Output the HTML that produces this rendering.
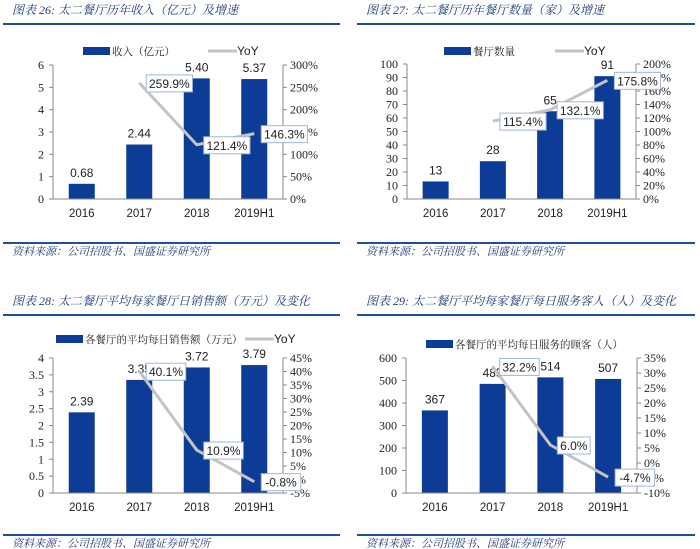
<!DOCTYPE html>
<html><head><meta charset="utf-8">
<style>
html,body{margin:0;padding:0;background:#fff;width:700px;height:549px;overflow:hidden}
svg{display:block}
.title{font-family:"Liberation Serif","Noto Serif CJK SC",serif;font-style:italic;font-size:12px;fill:#1f3b78}
.foot{font-family:"Liberation Serif","Noto Serif CJK SC",serif;font-style:italic;font-size:11px;fill:#1f3b78}
.tick{font-family:"Liberation Serif",serif;font-size:12px;fill:#222}
.cat{font-family:"Liberation Sans",sans-serif;font-size:11.5px;fill:#222}
.val{font-family:"Liberation Sans",sans-serif;font-size:12px;fill:#222}
.leg{font-family:"Liberation Serif","Noto Serif CJK SC",serif;font-size:10.5px;fill:#222}
</style></head>
<body>
<svg id="page" width="700" height="549" xmlns="http://www.w3.org/2000/svg"></svg>
<script>
// Shared categories
const categories = ["2016","2017","2018","2019H1"];

// Chart 26: revenue
const c1Values = [0.68, 2.44, 5.40, 5.37];
const c1Yoy = [null, 259.9, 121.4, 146.3];
const c1LeftTicks = [0,1,2,3,4,5,6];
const c1RightTicks = [0,50,100,150,200,250,300];

// Chart 27: restaurant count
const c2Values = [13, 28, 65, 91];
const c2Yoy = [null, 115.4, 132.1, 175.8];
const c2LeftTicks = [0,10,20,30,40,50,60,70,80,90,100];
const c2RightTicks = [0,20,40,60,80,100,120,140,160,180,200];

// Chart 28: daily sales per restaurant
const c3Values = [2.39, 3.35, 3.72, 3.79];
const c3Yoy = [null, 40.1, 10.9, -0.8];
const c3LeftTicks = [0,0.5,1,1.5,2,2.5,3,3.5,4];
const c3RightTicks = [-5,0,5,10,15,20,25,30,35,40,45];

// Chart 29: daily customers per restaurant
const c4Values = [367, 485, 514, 507];
const c4Yoy = [null, 32.2, 6.0, -4.7];
const c4LeftTicks = [0,100,200,300,400,500,600];
const c4RightTicks = [-10,-5,0,5,10,15,20,25,30,35];

const svg = document.getElementById('page');
const NS = 'http://www.w3.org/2000/svg';
function mk(tag, attrs, parent, text){
  const e = document.createElementNS(NS, tag);
  for (const k in attrs) e.setAttribute(k, attrs[k]);
  if (text !== undefined) e.textContent = text;
  (parent||svg).appendChild(e);
  return e;
}
const BLUE = '#0c3c96';

function chart(cfg){
  const g = mk('g', {});
  
  
  const t = mk('text', {x:cfg.tx, y:cfg.ty, class:'title'}, g, cfg.title);
  
  
  mk('rect', {x:cfg.rx1, y:cfg.ty+9, width:cfg.rx2-cfg.rx1, height:2, fill:'#1f4e9c'}, g);
  mk('rect', {x:cfg.rx1, y:cfg.fy, width:cfg.rx2-cfg.rx1, height:2, fill:'#1f4e9c'}, g);
  const f = mk('text', {x:cfg.tx, y:cfg.fy+13, class:'foot'}, g, '资料来源：公司招股书、国盛证券研究所');
  
  

  const L = cfg.L, R = cfg.R, T = cfg.T, B = cfg.B;
  const lt = cfg.leftTicks, rt = cfg.rightTicks;
  const yL = v => B - (v - lt[0]) / (lt[lt.length-1] - lt[0]) * (B - T);
  const yR = v => B - (v - rt[0]) / (rt[rt.length-1] - rt[0]) * (B - T);
  const bw = (R - L) / categories.length;
  const xC = i => L + bw * (i + 0.5);

  cfg.values.forEach((v, i) => {
    const r = mk('rect', {x:xC(i)-13, y:yL(v), width:26, height:B-yL(v), fill:BLUE}, g);
    
    
    const lb = mk('text', {x:xC(i), y:yL(v)-7, class:'val', 'text-anchor':'middle'}, g, cfg.fmt(v));
    
    
  });
  const ax = '#888';
  mk('line', {x1:L, y1:T, x2:L, y2:B, stroke:ax, 'stroke-width':1}, g);
  mk('line', {x1:R, y1:T, x2:R, y2:B, stroke:ax, 'stroke-width':1}, g);
  mk('line', {x1:L, y1:B, x2:R, y2:B, stroke:ax, 'stroke-width':1}, g);
  lt.forEach(v => {
    mk('line', {x1:L-4, y1:yL(v), x2:L, y2:yL(v), stroke:ax}, g);
    const tx = mk('text', {x:L-9, y:yL(v)+4, class:'tick', 'text-anchor':'end'}, g, String(v));
    
    
  });
  rt.forEach(v => {
    mk('line', {x1:R, y1:yR(v), x2:R+4, y2:yR(v), stroke:ax}, g);
    const tx = mk('text', {x:R+7, y:yR(v)+4, class:'tick'}, g, v + '%');
    
    
  });
  categories.forEach((c, i) => {
    const tx = mk('text', {x:xC(i), y:B+18, class:'cat', 'text-anchor':'middle'}, g, c);
    
    
  });
  const pts = [];
  cfg.yoy.forEach((v, i) => { if (v !== null) pts.push([xC(i), yR(v), v]); });
  const ln = mk('polyline', {points:pts.map(p => p[0]+','+p[1]).join(' '), fill:'none', stroke:'#c4c4c4', 'stroke-width':3, 'stroke-linejoin':'round'}, g);
  
  
  pts.forEach(p => {
    const s = p[2].toFixed(1) + '%';
    const w = s.length * 6.7 + 6;
    const bx = p[0] + 7, by = p[1] - 8;
    const r = mk('rect', {x:bx, y:by, width:w, height:17, fill:'#fff', stroke:'#9fb6d8', 'stroke-width':1}, g);
    
    
    mk('text', {x:bx + w/2, y:p[1]+5, class:'val', 'text-anchor':'middle'}, g, s);
  });
  const lr = mk('rect', {x:cfg.lgx, y:cfg.lgy-4, width:27, height:8, fill:BLUE}, g);
  
  
  const lt1 = mk('text', {x:cfg.lgx+29, y:cfg.lgy+4, class:'leg'}, g, cfg.legend);
  
  
  if (cfg.lyx) {
    const ll = mk('line', {x1:cfg.lyx, y1:cfg.lgy, x2:cfg.lyx+29, y2:cfg.lgy, stroke:'#c4c4c4', 'stroke-width':3}, g);
    
    
    const lt2 = mk('text', {x:cfg.lyx+29, y:cfg.lgy+4, class:'cat', style:'font-size:12px'}, g, 'YoY');
    
    
  }
}

chart({name:'chart-revenue', title:'图表 26:  太二餐厅历年收入（亿元）及增速', tx:12, ty:14, rx1:3, rx2:340, fy:242,
  L:53, R:283, T:65, B:199, leftTicks:c1LeftTicks, rightTicks:c1RightTicks, values:c1Values, yoy:c1Yoy,
  fmt:v=>v.toFixed(2), legend:'收入（亿元）', lgx:83, lgy:51, lyx:208});
chart({name:'chart-restaurant-count', title:'图表 27:  太二餐厅历年餐厅数量（家）及增速', tx:366, ty:14, rx1:357, rx2:695, fy:242,
  L:407, R:636, T:64, B:199, leftTicks:c2LeftTicks, rightTicks:c2RightTicks, values:c2Values, yoy:c2Yoy,
  fmt:v=>String(v), legend:'餐厅数量', lgx:444, lgy:51, lyx:555});
chart({name:'chart-daily-sales', title:'图表 28:  太二餐厅平均每家餐厅日销售额（万元）及变化', tx:12, ty:305, rx1:3, rx2:340, fy:534,
  L:53, R:283, T:358, B:493, leftTicks:c3LeftTicks, rightTicks:c3RightTicks, values:c3Values, yoy:c3Yoy,
  fmt:v=>v.toFixed(2), legend:'各餐厅的平均每日销售额（万元）', lgx:56, lgy:339, lyx:245});
chart({name:'chart-daily-customers', title:'图表 29:  太二餐厅平均每家餐厅每日服务客人（人）及变化', tx:366, ty:305, rx1:357, rx2:695, fy:534,
  L:406, R:637, T:358, B:493, leftTicks:c4LeftTicks, rightTicks:c4RightTicks, values:c4Values, yoy:c4Yoy,
  fmt:v=>String(v), legend:'各餐厅的平均每日服务的顾客（人）', lgx:426, lgy:344, lyx:0});
</script>
</body></html>
